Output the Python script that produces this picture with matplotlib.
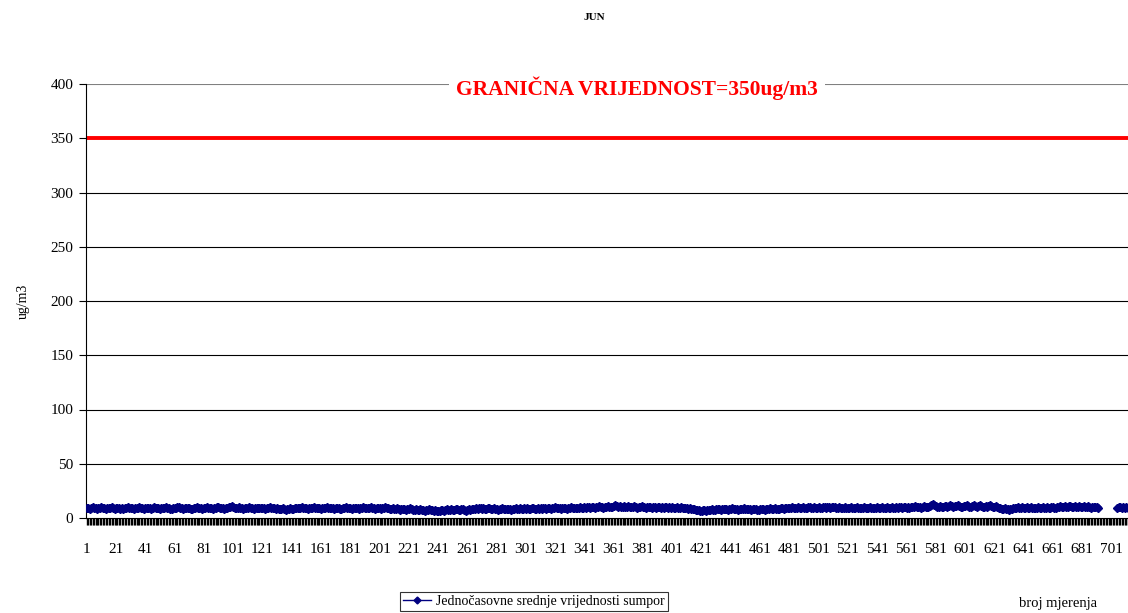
import numpy as np
import matplotlib
matplotlib.use("Agg")
import matplotlib.pyplot as plt
from matplotlib.lines import Line2D

nan = np.nan

# hourly values (ug/m3), one row per day of June
days = [
    [9, 9, 8, 9, 10, 9, 9, 8, 9, 9, 10, 9, 9, 8, 9, 9, 9, 10, 9, 8, 9, 9, 9, 8],
    [9, 8, 9, 9, 10, 9, 9, 9, 8, 9, 9, 9, 10, 9, 9, 8, 9, 9, 9, 9, 8, 9, 10, 9],
    [9, 9, 8, 9, 9, 9, 10, 9, 9, 8, 8, 9, 9, 9, 10, 10, 9, 9, 8, 9, 9, 9, 9, 8],
    [8, 9, 9, 10, 9, 9, 9, 8, 9, 9, 10, 9, 9, 9, 8, 9, 9, 10, 10, 9, 9, 9, 8, 9],
    [9, 10, 10, 11, 10, 9, 9, 9, 10, 9, 9, 8, 9, 9, 9, 10, 9, 9, 8, 9, 9, 9, 9, 9],
    [9, 9, 8, 9, 9, 10, 9, 9, 9, 8, 9, 8, 8, 8, 9, 8, 7, 8, 8, 9, 8, 8, 9, 9],
    [9, 9, 9, 10, 9, 9, 9, 8, 9, 9, 9, 10, 9, 9, 9, 9, 8, 9, 9, 9, 10, 9, 9, 9],
    [9, 8, 9, 9, 9, 8, 8, 9, 9, 10, 9, 9, 9, 8, 9, 9, 9, 9, 8, 9, 9, 10, 9, 9],
    [9, 9, 10, 9, 9, 8, 9, 9, 9, 8, 9, 9, 10, 9, 9, 8, 8, 9, 8, 8, 9, 8, 7, 8],
    [8, 8, 7, 8, 8, 9, 8, 7, 7, 8, 7, 7, 8, 7, 7, 6, 7, 7, 8, 7, 7, 6, 7, 6],
    [6, 6, 7, 7, 6, 7, 8, 7, 7, 8, 7, 7, 8, 8, 7, 7, 8, 8, 7, 6, 7, 8, 7, 8],
    [8, 8, 9, 8, 9, 9, 8, 9, 8, 8, 9, 9, 8, 8, 9, 8, 8, 7, 8, 8, 9, 8, 8, 8],
    [8, 8, 7, 8, 8, 9, 8, 8, 9, 8, 8, 9, 8, 9, 8, 8, 9, 9, 8, 8, 9, 8, 9, 8],
    [9, 9, 8, 9, 9, 8, 9, 9, 10, 9, 9, 9, 8, 9, 9, 9, 8, 9, 9, 10, 9, 9, 9, 9],
    [9, 10, 9, 9, 10, 9, 10, 10, 9, 10, 10, 9, 10, 10, 11, 10, 10, 9, 10, 10, 11, 10, 10, 10],
    [11, 12, 11, 10, 11, 10, 10, 11, 10, 10, 11, 10, 10, 10, 11, 10, 9, 10, 10, 11, 10, 10, 9, 10],
    [10, 10, 9, 10, 10, 9, 10, 10, 9, 10, 9, 10, 10, 9, 10, 9, 10, 9, 9, 10, 9, 9, 10, 9],
    [9, 9, 9, 8, 9, 8, 8, 8, 7, 7, 7, 6, 6, 7, 7, 6, 7, 7, 7, 8, 7, 7, 8, 8],
    [8, 7, 8, 8, 8, 8, 7, 8, 8, 9, 8, 8, 8, 7, 8, 8, 8, 9, 8, 8, 8, 8, 7, 8],
    [8, 8, 7, 7, 8, 8, 8, 7, 8, 8, 8, 9, 8, 8, 9, 8, 8, 8, 9, 9, 8, 9, 9, 9],
    [9, 9, 10, 9, 9, 9, 10, 9, 9, 10, 9, 9, 9, 10, 10, 9, 9, 10, 9, 9, 10, 9, 9, 10],
    [10, 9, 10, 10, 9, 10, 10, 10, 9, 9, 10, 9, 9, 9, 10, 9, 9, 9, 10, 9, 9, 9, 10, 9],
    [9, 9, 9, 10, 9, 9, 9, 10, 9, 9, 9, 9, 10, 9, 9, 10, 9, 9, 9, 10, 9, 9, 10, 9],
    [9, 10, 9, 10, 10, 9, 10, 10, 9, 10, 9, 10, 10, 10, 11, 10, 10, 10, 9, 10, 11, 10, 10, 10],
    [11, 12, 13, 12, 11, 10, 10, 11, 10, 10, 11, 11, 10, 11, 12, 11, 10, 11, 11, 12, 11, 10, 10, 11],
    [11, 12, 11, 10, 10, 11, 12, 11, 10, 11, 12, 11, 10, 10, 11, 10, 11, 12, 11, 10, 10, 11, 10, 9],
    [9, 8, 8, 9, 8, 8, 7, 8, 8, 9, 9, 9, 10, 9, 9, 10, 9, 9, 10, 9, 9, 10, 9, 9],
    [9, 9, 10, 9, 9, 10, 9, 9, 10, 9, 9, 10, 10, 9, 9, 10, 10, 11, 10, 10, 11, 10, 10, 11],
    [11, 10, 10, 11, 10, 10, 11, 10, 10, 11, 10, 10, 11, 10, 9, 10, 10, 10, 10, 9, nan, nan, nan, nan],
    [nan, nan, nan, nan, nan, nan, nan, nan, 9, 10, 10, 9, 10, 9, 10, 9, 10, 9, 9, 10, 10, 9, 10, 9],
]
limit = 350
y_ticks = [0, 50, 100, 150, 200, 250, 300, 350, 400]
series_name = 'Jednočasovne srednje vrijednosti sumpor'

values = np.array([v for d in days for v in d], dtype=float)
n = len(values)
x = np.arange(1, n + 1)

plt.rcParams['font.family'] = ['Liberation Serif', 'DejaVu Serif']

fig = plt.figure(figsize=(11.28, 6.13), dpi=100)
ax = fig.add_axes([86 / 1128, 1 - 518 / 613, 1054 / 1128, 434 / 613])

for t in y_ticks[1:-1]:
    ax.axhline(t, color='black', lw=0.8, zorder=1)
ax.axhline(400, color='#808080', lw=0.8, zorder=1)
ax.axhline(limit, color='#ff0000', lw=2.8, zorder=2)

ax.plot(x, values, color='#000080', lw=2.6, marker='D', ms=4, zorder=3)

ax.set_xlim(0.5, n + 0.5)
ax.set_ylim(0, 400)
ax.set_yticks(y_ticks)
ax.set_yticklabels([str(t) for t in y_ticks], fontsize=11)
ax.set_xticks(x, minor=True)
ax.set_xticks(x[::20])
ax.set_xticklabels([str(i) for i in x[::20]], fontsize=11)
ax.tick_params(axis='x', which='both', direction='out', length=5, width=1.0,
               pad=13)
ax.tick_params(axis='y', direction='out', length=5, width=0.8, pad=4)

for s in ['top', 'right']:
    ax.spines[s].set_visible(False)
ax.spines['left'].set_linewidth(0.8)
ax.spines['bottom'].set_linewidth(0.8)

ax.set_ylabel('ug/m3', fontsize=10, labelpad=15)
fig.text(594 / 1128, 1 - 18 / 613, 'JUN', ha='center', va='center',
         fontsize=8, fontweight='bold')
fig.text(637 / 1128, 1 - 88 / 613, 'GRANIČNA VRIJEDNOST=350ug/m3',
         ha='center', va='center', fontsize=15.5, fontweight='bold',
         color='#ff0000',
         bbox=dict(facecolor='white', edgecolor='none', pad=5))
fig.text(1058 / 1128, 1 - 603 / 613, 'broj mjerenja', ha='center',
         va='center', fontsize=10.5)

# thin legend key like the original
handle = Line2D([], [], color='#000080', lw=1.0, marker='D', ms=3.5)
leg = fig.legend([handle], [series_name], loc='upper left',
                 bbox_to_anchor=(400 / 1128, 1 - 592 / 613),
                 fontsize=10, frameon=True, fancybox=False, edgecolor='black',
                 handlelength=2.0, borderpad=0.2, handletextpad=0.4,
                 borderaxespad=0)
leg.get_frame().set_linewidth(0.8)

plt.savefig('out.png', dpi=100)
